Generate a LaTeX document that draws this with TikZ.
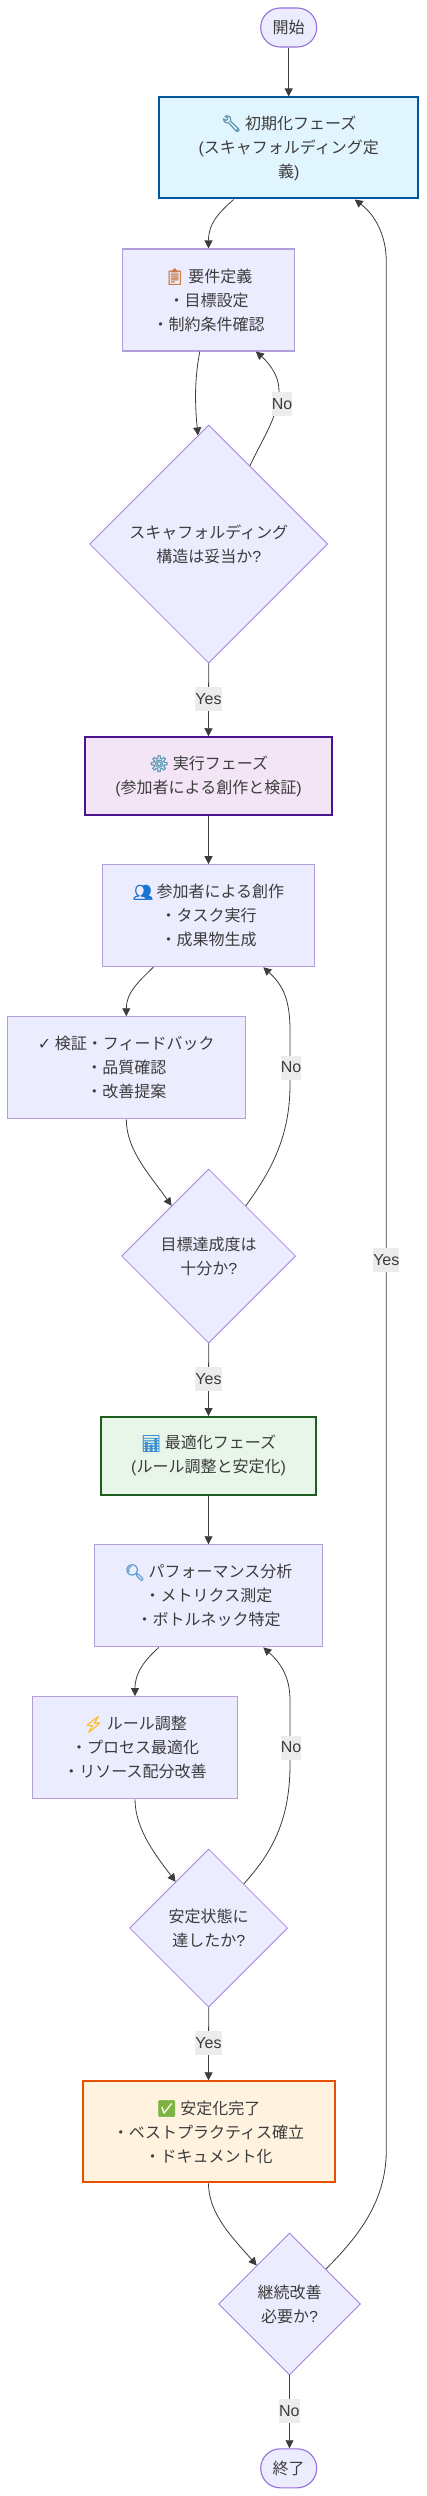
\documentclass[tikz,border=0pt]{standalone}
\usepackage{fontspec}
\usetikzlibrary{shapes.geometric,shapes.misc,arrows.meta,calc}
\setmainfont{Noto Sans CJK JP}
\newfontfamily\latinf{Liberation Sans}
\newfontfamily\emof[FakeBold=2.5]{Noto Emoji}
\newfontfamily\dejaf{DejaVu Sans}
\newcommand{\la}[1]{{\latinf #1}}
\newcommand{\emo}[2]{{\color[HTML]{#1}\emof #2}}
\definecolor{ink}{HTML}{3C3C3C}
\definecolor{HTMLp}{HTML}{9370DB}
\definecolor{HTMLl}{HTML}{B39DDB}
\definecolor{HTMLf}{HTML}{ECECFF}
\definecolor{HTMLg}{HTML}{ECECEC}
\tikzset{
  base/.style={align=center,inner sep=0pt,text=ink,font=\fontsize{16}{24}\selectfont},
  term/.style={base,rounded rectangle,draw=HTMLp,fill=HTMLf,line width=1.1pt,minimum width=56pt,minimum height=39pt},
  proc/.style={base,rectangle,draw=HTMLl,fill=HTMLf,line width=1.1pt,minimum height=102pt},
  phase/.style={base,rectangle,line width=2pt},
  decide/.style={base,diamond,aspect=1,draw=HTMLp,fill=HTMLf,line width=.6pt},
  edge/.style={draw=ink,line width=.8pt,-{Triangle[length=8pt,width=8pt]}},
  lab/.style={base,fill=HTMLg,minimum height=24pt,font=\fontsize{16}{24}\selectfont\latinf}
}
\begin{document}
\begin{tikzpicture}[x=1pt,y=-1pt]
\useasboundingbox (0,0) rectangle (427,2496);
% nodes
\node[term] (start) at (288.7,27.5) {開始};
\node[phase,draw={rgb,255:red,1;green,87;blue,155},fill={rgb,255:red,225;green,245;blue,254},minimum width=259pt,minimum height=101pt] (init) at (288.7,148) {\emo{5F93A8}{🔧} 初期化フェーズ\\\la{(}スキャフォルディング定\\義\la{)}};
\node[proc,minimum width=171.5pt] (req) at (208.5,300) {\emo{C87F45}{📋} 要件定義\\・目標設定\\・制約条件確認};
\node[decide,minimum width=238pt,minimum height=238pt] (d1) at (208.7,544) {スキャフォルディング\\構造は妥当か\la{?}};
\node[phase,draw={rgb,255:red,74;green,20;blue,140},fill={rgb,255:red,243;green,229;blue,245},minimum width=246.5pt,minimum height=77.5pt] (exec) at (208.5,776) {\emo{5F9DB5}{⚙} 実行フェーズ\\\la{(}参加者による創作と検証\la{)}};
\node[proc,minimum width=212.5pt] (create) at (208.5,915.7) {\emo{1976D2}{👥} 参加者による創作\\・タスク実行\\・成果物生成};
\node[proc,minimum width=238pt] (verify) at (126.3,1067.8) {{\dejaf ✓} 検証・フィードバック\\・品質確認\\・改善提案};
\node[decide,minimum width=174pt,minimum height=174pt] (d2) at (208.7,1256) {目標達成度は\\十分か\la{?}};
\node[phase,draw={rgb,255:red,27;green,94;blue,32},fill={rgb,255:red,232;green,245;blue,233},minimum width=215pt,minimum height=77.5pt] (opt) at (208.5,1455.8) {\emo{3F8FD0}{📊} 最適化フェーズ\\\la{(}ルール調整と安定化\la{)}};
\node[proc,minimum width=228.5pt] (perf) at (208.5,1595.8) {\emo{5B9BD0}{🔍} パフォーマンス分析\\・メトリクス測定\\・ボトルネック特定};
\node[proc,minimum width=204.5pt] (rule) at (135,1747.7) {\emo{FBC02D}{⚡} ルール調整\\・プロセス最適化\\・リソース配分改善};
\node[decide,minimum width=158pt,minimum height=158pt] (d3) at (208.7,1928) {安定状態に\\達したか\la{?}};
\node[phase,draw={rgb,255:red,230;green,81;blue,0},fill={rgb,255:red,255;green,243;blue,224},minimum width=252pt,minimum height=101pt] (done) at (208.5,2131.8) {\emo{7CB342}{✅} 安定化完了\\・ベストプラクティス確立\\・ドキュメント化};
\node[decide,minimum width=142pt,minimum height=142pt] (d4) at (289.5,2304) {継続改善\\必要か\la{?}};
\node[term] (end) at (288.7,2468.3) {終了};
% connectors
\draw[edge] (start) -- (init.north -| start);
\draw[edge] ([xshift=-55pt]init.south) .. controls +(-16,14) and (208.5,224) .. (req.north);
\draw[edge] ([xshift=-8.7pt]req.south) .. controls +(-4,21) and (194,395) .. ($(d1.north)!.09!(d1.west)$);
\draw[edge] ($(d1.north)!.345!(d1.east)$) .. controls (264,436) and (279,415) .. (279,390) .. controls (279,375) and (268,362) .. ([xshift=47.3pt]req.south);
\draw[edge] (d1.south) -- (exec.north);
\draw[edge] (exec.south) -- (create.north);
\draw[edge] ([xshift=-55.2pt]create.south) .. controls +(-15.5,15) and (126.3,993) .. (verify.north);
\draw[edge] (verify.south) .. controls +(0,31) and (150,1175) .. ($(d2.north)!.425!(d2.west)$);
\draw[edge] ($(d2.north)!.425!(d2.east)$) .. controls (268,1175) and (290,1140) .. (290,1085) -- (290,1030) .. controls (290,1000) and (283,985) .. ([xshift=54.8pt]create.south);
\draw[edge] (d2.south) -- (opt.north);
\draw[edge] (opt.south) -- (perf.north);
\draw[edge] ([xshift=-49.7pt]perf.south) .. controls +(-14,13) and (135,1672) .. (rule.north);
\draw[edge] (rule.south) .. controls +(0,31) and (158,1858) .. ($(d3.north)!.418!(d3.west)$);
\draw[edge] ($(d3.north)!.443!(d3.east)$) .. controls (268,1857) and (290,1825) .. (290,1765) -- (290,1700) .. controls (290,1680) and (283,1665) .. ([xshift=54.8pt]perf.south);
\draw[edge] (d3.south) -- (done.north);
\draw[edge] (done.south) .. controls +(0,32) and (235,2240) .. ($(d4.north)!.46!(d4.west)$);
\draw[edge] ($(d4.north)!.51!(d4.east)$) .. controls (360,2235) and (386.3,2200) .. (386.3,2150) -- (386.3,262) .. controls (386.3,235) and (375,215) .. ([xshift=66pt]init.south);
\draw[edge] (d4.south) -- (end.north -| d4.south);
% edge labels
\node[lab,minimum width=20pt] (n1) at (282,404) {No};
\node[lab,minimum width=25.5pt] (y1) at (208.5,699) {Yes};
\node[lab,minimum width=20pt] (n2) at (291,1067.5) {No};
\node[lab,minimum width=25.5pt] (y2) at (208.5,1379) {Yes};
\node[lab,minimum width=20pt] (n3) at (291,1747.5) {No};
\node[lab,minimum width=25.5pt] (y3) at (208.5,2043) {Yes};
\node[lab,minimum width=25.5pt] (y4) at (386.3,1260) {Yes};
\node[lab,minimum width=20pt] (n4) at (289.3,2411) {No};
\end{tikzpicture}
\end{document}
